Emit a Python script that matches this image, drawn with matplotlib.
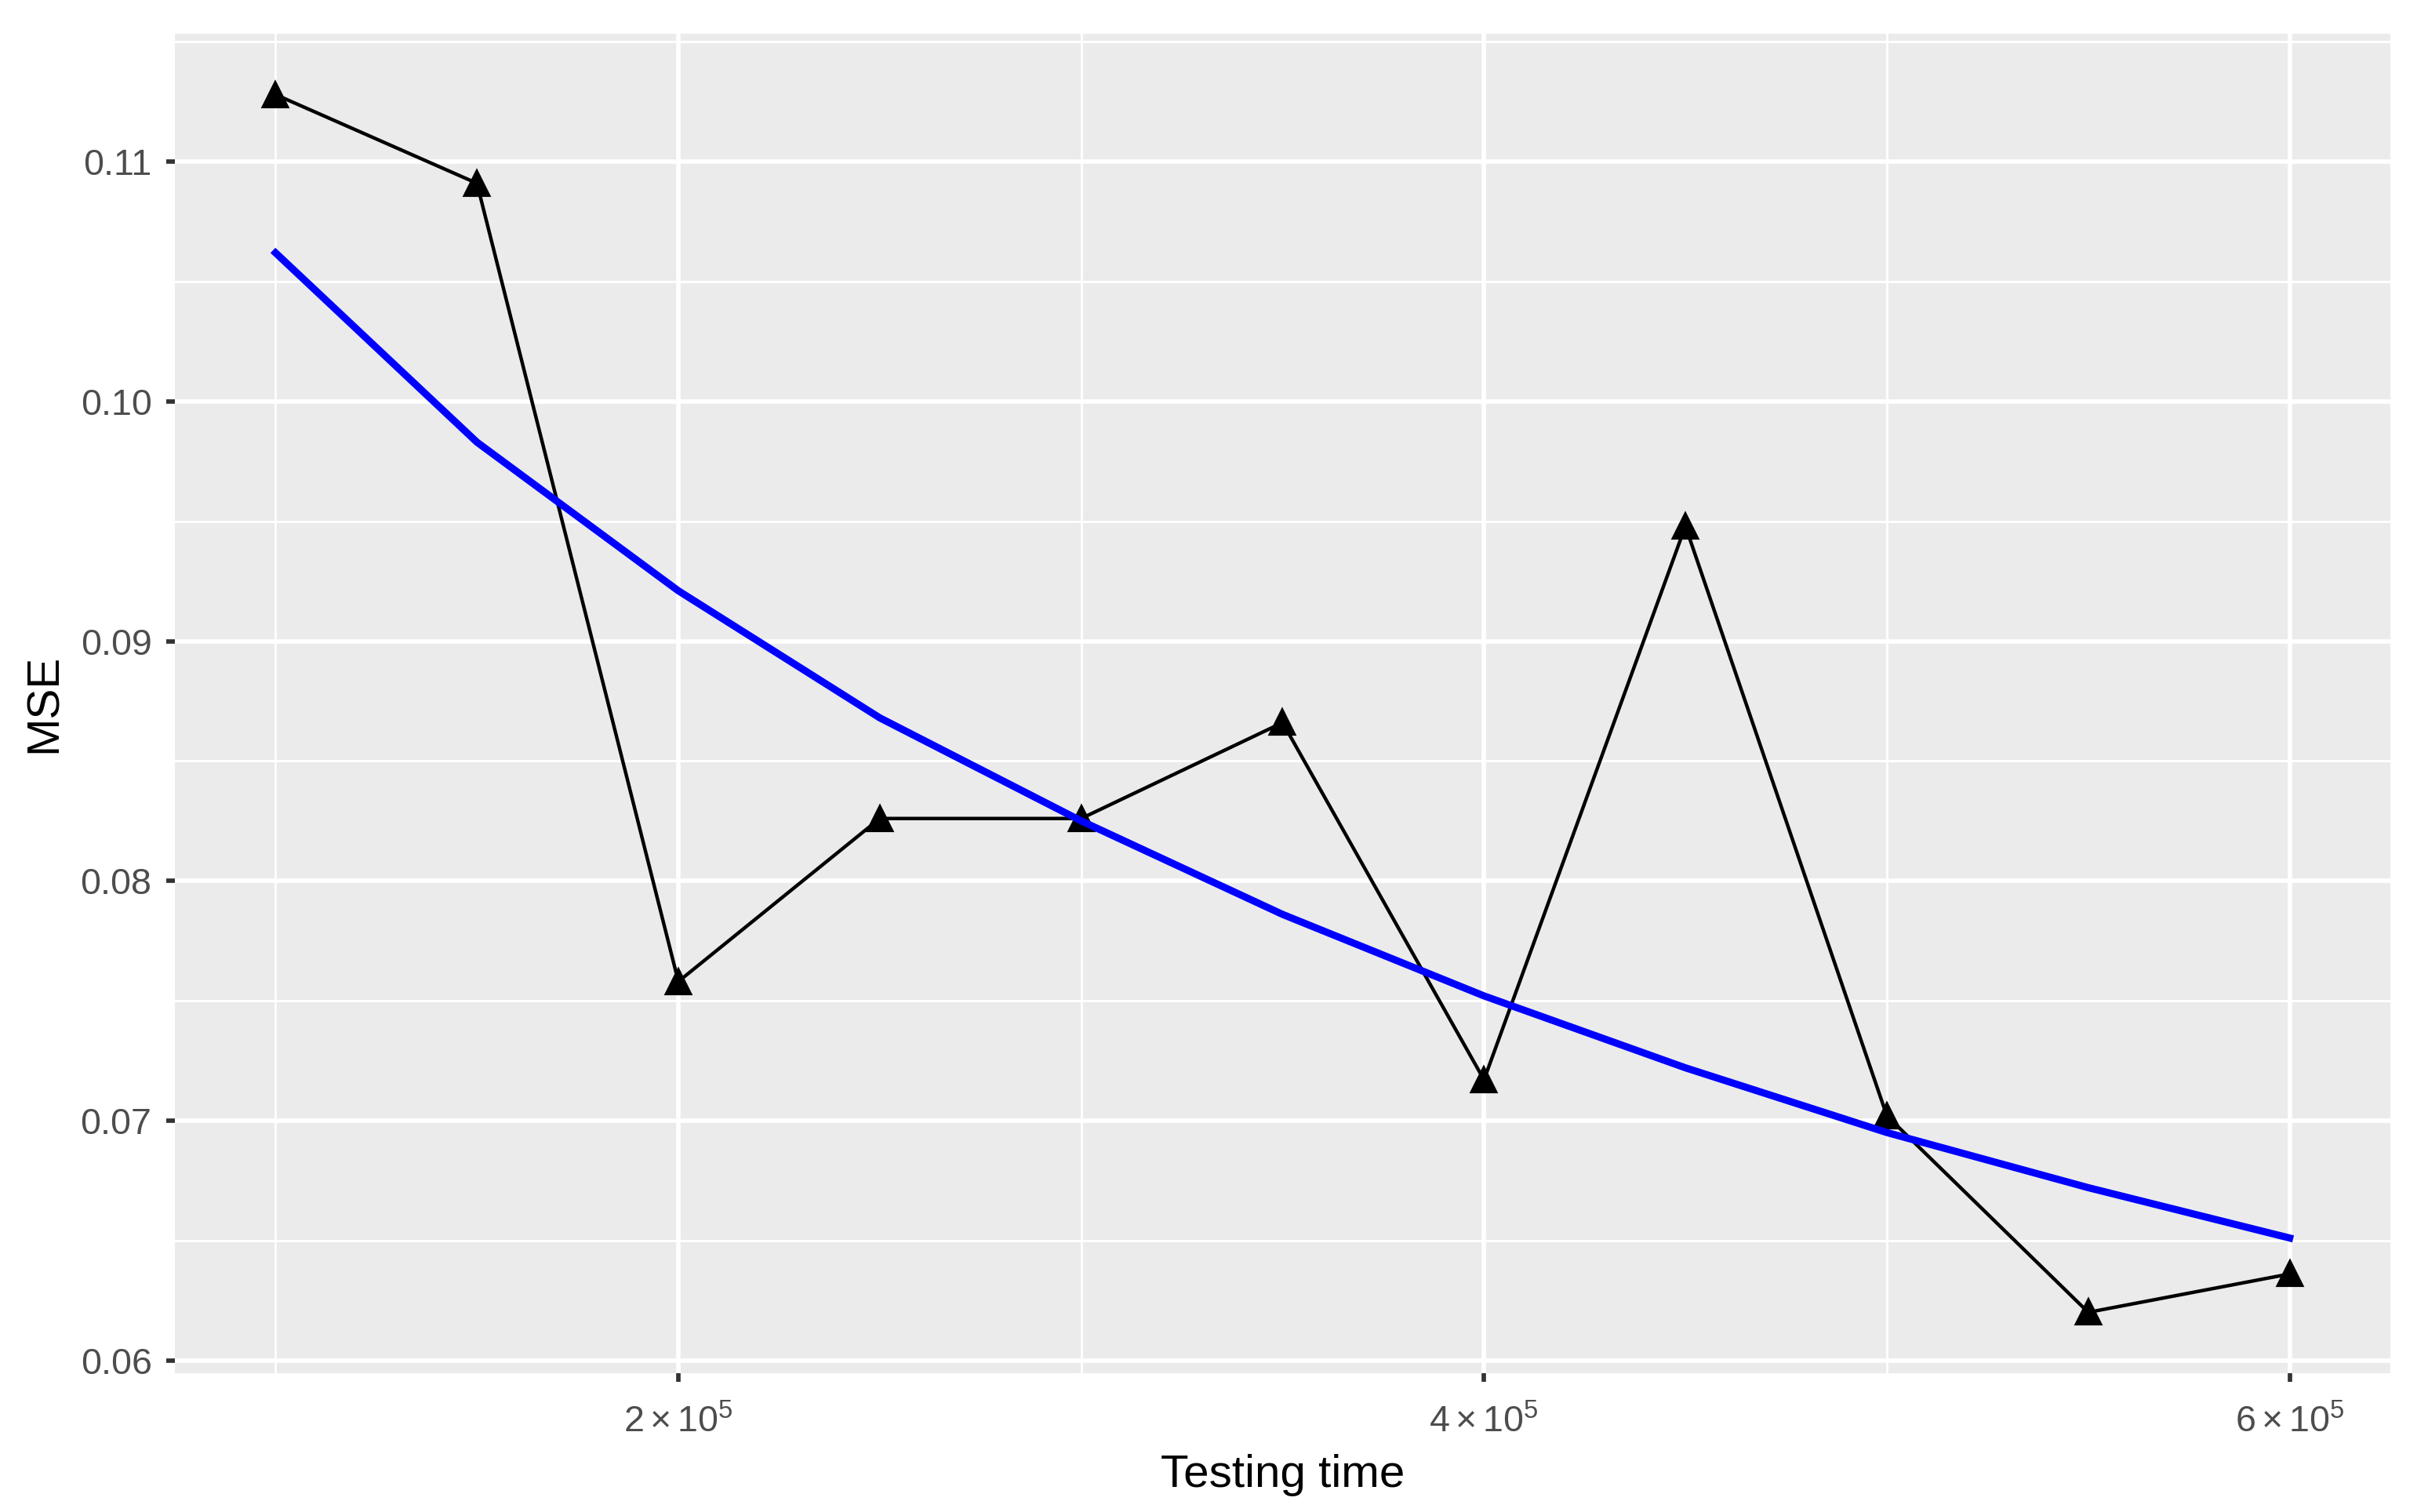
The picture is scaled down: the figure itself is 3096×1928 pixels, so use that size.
import numpy as np
import matplotlib
matplotlib.use('Agg')
import matplotlib.pyplot as plt

plt.rcParams['font.family'] = ['Liberation Sans', 'DejaVu Sans']
plt.rcParams['mathtext.fontset'] = 'custom'
plt.rcParams['mathtext.rm'] = 'Liberation Sans'
plt.rcParams['mathtext.it'] = 'Liberation Sans:italic'

# data
testing_time = [1e5, 1.5e5, 2e5, 2.5e5, 3e5, 3.5e5, 4e5, 4.5e5, 5e5, 5.5e5, 6e5]
mse = [0.1128, 0.1091, 0.0758, 0.0826, 0.0826, 0.0866, 0.0717, 0.0948, 0.0702, 0.0620, 0.0636]
mse_fit = [0.1062, 0.0983, 0.0921, 0.0868, 0.0825, 0.0786, 0.0752, 0.0722, 0.0695, 0.0672, 0.0651]

x_ticks = [2e5, 4e5, 6e5]
x_labels = [r'$2\times10^{5}$', r'$4\times10^{5}$', r'$6\times10^{5}$']
y_ticks = [0.06, 0.07, 0.08, 0.09, 0.10, 0.11]
y_labels = ['0.06', '0.07', '0.08', '0.09', '0.10', '0.11']

fig = plt.figure(figsize=(10.32, 6.4267), dpi=300)
ax = fig.add_axes([0.072, 0.0918, 0.9125, 0.8859])
ax.set_facecolor('#EBEBEB')

# ggplot-like limits (5% expansion)
xr = max(testing_time) - min(testing_time)
ax.set_xlim(min(testing_time) - 0.05 * xr, max(testing_time) + 0.05 * xr)
yr = max(mse) - min(mse)
ax.set_ylim(min(mse) - 0.05 * yr, max(mse) + 0.05 * yr)

# grid
ax.set_xticks(x_ticks)
ax.set_xticks([1e5, 3e5, 5e5], minor=True)
ax.set_yticks(y_ticks)
ax.set_yticks([0.065, 0.075, 0.085, 0.095, 0.105, 0.115], minor=True)
ax.grid(which='major', color='white', linewidth=1.36)
ax.grid(which='minor', color='white', linewidth=0.68)
ax.set_axisbelow(True)

ax.plot(testing_time, mse, color='black', linewidth=1.07, marker='^',
        markersize=7, zorder=3)
ax.plot(testing_time, mse_fit, color='blue', linewidth=2.2, zorder=4)

ax.set_xticklabels(x_labels)
ax.set_yticklabels(y_labels)
ax.tick_params(which='major', length=2.75, width=1.36, color='#333333',
               labelcolor='#4D4D4D', labelsize=11.2)
ax.tick_params(axis='y', pad=4.3)
ax.tick_params(axis='x', pad=7.0)
ax.tick_params(which='minor', length=0)
for s in ax.spines.values():
    s.set_visible(False)

ax.set_xlabel('Testing time', fontsize=14, color='black', va='baseline')
ax.xaxis.set_label_coords(0.5, -0.0849)
ax.set_ylabel('MSE', fontsize=14, color='black', va='center', ha='center')
ax.yaxis.set_label_coords(-0.0588, 0.5)

fig.savefig('out.png', dpi=300)
